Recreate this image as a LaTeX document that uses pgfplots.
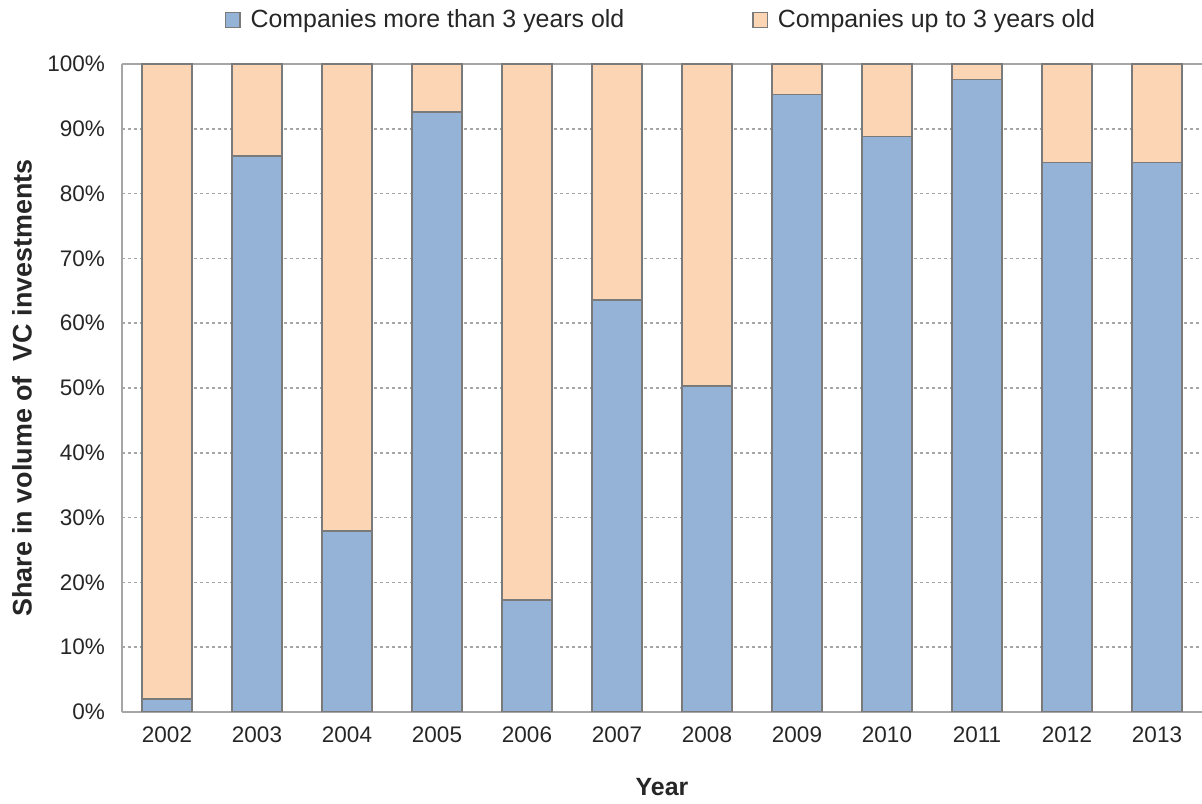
\documentclass[border=0pt]{standalone}
\usepackage{pgfplots}
\pgfplotsset{compat=1.18}
\usepackage{fontspec}
\setmainfont{Liberation Sans}
\definecolor{oldblue}{HTML}{95B3D7}
\definecolor{youngpeach}{HTML}{FCD5B5}
\definecolor{edgegray}{HTML}{7A7A7A}
\definecolor{axgray}{HTML}{A6A6A6}
\definecolor{txt}{HTML}{262626}
\begin{document}
\begin{tikzpicture}
\begin{axis}[
  scale only axis,
  width=540bp, height=324bp,
  ybar stacked,
  bar width=25bp,
  xmin=-0.5, xmax=11.5,
  ymin=0, ymax=100,
  axis x line*=bottom,
  axis y line*=left,
  axis line style={axgray, line width=0.9bp},
  xtick={0,1,2,3,4,5,6,7,8,9,10,11},
  xticklabels={2002,2003,2004,2005,2006,2007,2008,2009,2010,2011,2012,2013},
  x tick label style={font=\fontsize{11.3}{13}\selectfont, text=txt, yshift=-4bp},
  major x tick style={draw=none},
  extra x ticks={-0.5,0.5,1.5,2.5,3.5,4.5,5.5,6.5,7.5,8.5,9.5,10.5,11.5},
  extra x tick labels={},
  extra x tick style={major tick length=4bp, tick align=outside, tick style={axgray, line width=0.9bp}, grid=none},
  ytick={0,10,20,30,40,50,60,70,80,90,100},
  yticklabel={\pgfmathprintnumber{\tick}\%},
  y tick label style={font=\fontsize{11.3}{13}\selectfont, text=txt, xshift=-5bp},
  /pgf/number format/assume math mode=true,
  major y tick style={draw=none},
  ymajorgrids,
  grid style={axgray, dash pattern=on 1.5bp off 1.5bp, line width=0.8bp},
  xlabel={\textbf{Year}},
  xlabel style={at={(axis description cs:0.5,0)}, anchor=center, yshift=-37.5bp, font=\fontsize{12.5}{14}\selectfont, text=txt},
  ylabel={\textbf{Share in volume of \ VC investments}},
  ylabel style={at={(axis description cs:-0.0926,0.5)}, anchor=center, font=\fontsize{13.5}{15}\selectfont, text=txt},
  legend style={at={(axis description cs:0.5,1)}, anchor=center, yshift=22bp, draw=none, fill=none,
    font=\fontsize{12.5}{14}\selectfont, text=txt, legend columns=2,
    /tikz/every even column/.append style={column sep=62bp},
    legend cell align=left},
  legend image code/.code={\draw[#1, line width=0.6bp] (0bp,-3.6bp) rectangle (7.2bp,3.6bp);},
]
\addplot[fill=oldblue, draw=edgegray, line width=0.8bp] coordinates {
 (0,2.0) (1,85.8) (2,27.9) (3,92.6) (4,17.3) (5,63.6) (6,50.3) (7,95.3) (8,88.8) (9,97.6) (10,84.8) (11,84.8)};
\addlegendentry{\hspace{3bp}Companies more than 3 years old}
\addplot[fill=youngpeach, draw=edgegray, line width=0.8bp] coordinates {
 (0,98.0) (1,14.2) (2,72.1) (3,7.4) (4,82.7) (5,36.4) (6,49.7) (7,4.7) (8,11.2) (9,2.4) (10,15.2) (11,15.2)};
\addlegendentry{\hspace{3bp}Companies up to 3 years old}
\draw[axgray, line width=0.9bp] (rel axis cs:0,1) -- (rel axis cs:1,1);
\coordinate (bl) at (rel axis cs:0,0);
\coordinate (tr) at (rel axis cs:1,1);
\end{axis}
\pgfresetboundingbox
\path[use as bounding box] ([xshift=-61bp,yshift=-46bp]bl) rectangle ([yshift=32bp]tr);
\end{tikzpicture}
\end{document}
